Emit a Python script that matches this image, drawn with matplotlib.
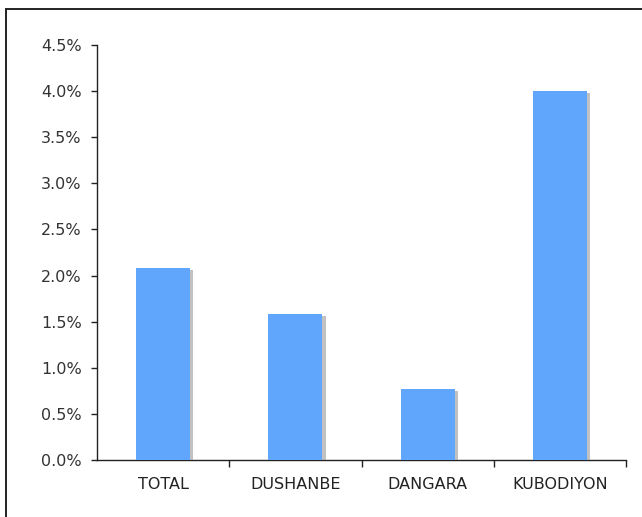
import matplotlib
matplotlib.use("Agg")
import matplotlib.pyplot as plt
import matplotlib.patheffects as pe
from matplotlib.patches import Rectangle
from matplotlib.ticker import FuncFormatter

categories = ["TOTAL", "DUSHANBE", "DANGARA", "KUBODIYON"]
values = [2.08, 1.58, 0.77, 4.0]

fig = plt.figure(figsize=(6.42, 5.17), dpi=100)
ax = fig.add_axes([97 / 642, 1 - 460 / 517, 529 / 642, 415 / 517])

# outer frame (only top-left corner visible in the original)
fig.patches.append(Rectangle((6 / 642, -0.1), 1.2, (517 - 9) / 517 + 0.1,
                             transform=fig.transFigure, fill=False,
                             edgecolor="#222222", linewidth=1.4))

x = range(len(categories))
bars = ax.bar(x, values, width=0.41, color="#61a6fd", zorder=3)
for b in bars:
    b.set_path_effects([pe.SimplePatchShadow(offset=(2.2, -1.5), shadow_rgbFace="#999999", alpha=0.6),
                        pe.Normal()])

ax.set_xlim(-0.5, 3.5)
ax.set_ylim(0, 4.5)
ax.set_yticks([i * 0.5 for i in range(10)])
ax.yaxis.set_major_formatter(FuncFormatter(lambda v, p: f"{v:.1f}%"))
ax.set_xticks(list(x))
ax.set_xticklabels(categories)
ax.set_xticks([0.5, 1.5, 2.5, 3.5], minor=True)

for s in ["top", "right"]:
    ax.spines[s].set_visible(False)
for s in ["left", "bottom"]:
    ax.spines[s].set_color("#222222")
    ax.spines[s].set_linewidth(1.0)

ax.tick_params(axis="y", direction="out", length=4, width=1, colors="#222222",
               labelsize=11.5, labelcolor="#333333", pad=7)
ax.tick_params(axis="x", which="major", length=0, labelsize=11.5, labelcolor="#222222", pad=12)
ax.tick_params(axis="x", which="minor", direction="out", length=5, width=1, colors="#222222")

fig.savefig("out.png", dpi=100)
